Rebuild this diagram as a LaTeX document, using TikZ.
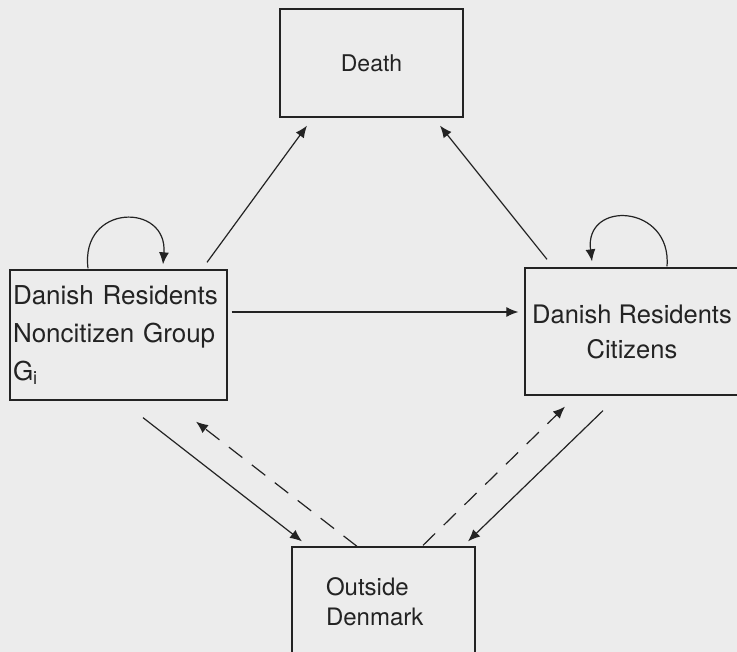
\documentclass[tikz,border=0pt]{standalone}
\usepackage{fontspec}
\setmainfont{TeX Gyre Heros}
\usepackage{tikz}
\usetikzlibrary{arrows.meta,positioning}

\definecolor{paper}{RGB}{236,236,236}
\definecolor{ink}{RGB}{35,35,35}

\begin{document}
\begin{tikzpicture}
	[x=1pt,y=-1pt,
	state/.style={rectangle,draw=ink,fill=paper,line width=1.3pt,text=ink,
		inner sep=3pt},
	move/.style={draw=ink,line width=1.2pt,-{Latex[length=12pt,width=10pt]}},
	back/.style={move,dash pattern=on 17pt off 12pt}]
	\useasboundingbox (0,0) rectangle (737,652);
	\clip (0,0) rectangle (737,652);
	\fill[paper] (0,0) rectangle (737,652);

	%estados
	\node[state,minimum width=183pt,minimum height=108pt,
		font=\fontsize{23}{26}\selectfont] (death) at (371.5,63) {Death};
	\node[state,minimum width=217pt,minimum height=130pt,align=left,text width=211pt,
		font=\fontsize{26}{38}\selectfont] (noncit) at (118.5,335)
		{Danish Residents\\Noncitizen Group\\G\textsubscript{i}};
	\node[state,minimum width=214pt,minimum height=127pt,align=center,
		font=\fontsize{25.5}{35}\selectfont] (cit) at (632,331.5)
		{Danish Residents\\Citizens};
	\node[state,minimum width=183pt,minimum height=110pt,align=left,
		inner xsep=34pt,text width=115pt,
		font=\fontsize{24}{30}\selectfont] (outside) at (383.5,602)
		{Outside\\Denmark};

	%flujos
	\draw[move] ([xshift=88.5pt,yshift=7pt]noncit.north) -- ([xshift=-64.5pt,yshift=-8pt]death.south);
	\draw[move] ([xshift=-85pt,yshift=8pt]cit.north) -- ([xshift=68.5pt,yshift=-8pt]death.south);
	\draw[move] ([xshift=4pt,yshift=23pt]noncit.east) -- ([xshift=-6pt,yshift=19.5pt]cit.west);
	\draw[move] ([xshift=24.5pt,yshift=-17pt]noncit.south) -- ([xshift=-81.5pt,yshift=5pt]outside.north);
	\draw[back] ([xshift=-26.5pt]outside.north) -- ([xshift=77.5pt,yshift=-21pt]noncit.south);
	\draw[move] ([xshift=-29pt,yshift=-15pt]cit.south) -- ([xshift=84.5pt,yshift=5pt]outside.north);
	\draw[back] ([xshift=39.5pt,yshift=1pt]outside.north) -- ([xshift=-67pt,yshift=-11pt]cit.south);

	%lazos
	\draw[move] ([xshift=-30.5pt,yshift=1pt]noncit.north) .. controls +(-8,-65) and +(5,-62) .. ([xshift=44.5pt,yshift=5pt]noncit.north);
	\draw[move] ([xshift=35pt,yshift=1pt]cit.north) .. controls +(5,-62) and +(-8,-62) .. ([xshift=-40pt,yshift=6pt]cit.north);
\end{tikzpicture}
\end{document}
